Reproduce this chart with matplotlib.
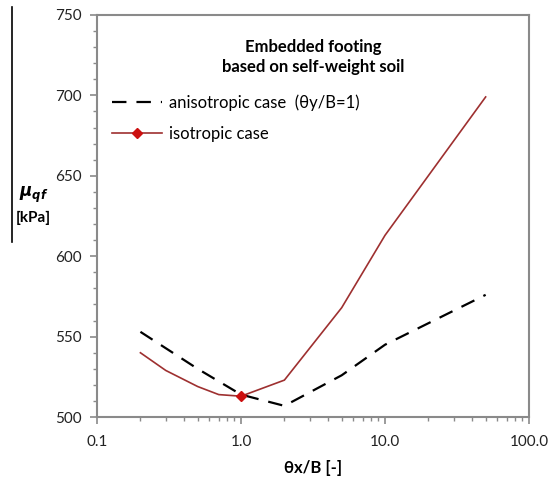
import matplotlib
matplotlib.use("Agg")
import matplotlib.pyplot as plt
from matplotlib.ticker import FixedLocator, NullFormatter, MultipleLocator
from matplotlib.lines import Line2D

plt.rcParams['font.family'] = ['Lato', 'DejaVu Sans']

iso_x = [0.2, 0.3, 0.5, 0.7, 1.0, 2.0, 5.0, 10.0, 50.0]
iso_y = [540, 529, 519, 514, 513, 523, 568, 613, 699]
aniso_x = [0.2, 0.5, 1.0, 2.0, 5.0, 10.0, 50.0]
aniso_y = [553, 530, 514, 507, 526, 545, 576]
x_ticks = [0.1, 1.0, 10.0, 100.0]
x_tick_labels = ["0.1", "1.0", "10.0", "100.0"]
y_ticks = [500, 550, 600, 650, 700, 750]

fig = plt.figure(figsize=(5.58, 4.8), dpi=100)
ax = fig.add_axes([0.174, 0.131, 0.774, 0.838])

ax.plot(aniso_x, aniso_y, color='black', lw=1.6, dashes=(6.5, 4.5),
        label='anisotropic case  (θy/B=1)')
ax.plot(iso_x, iso_y, color='#9e3030', lw=1.2, marker='D', ms=5,
        mfc='#cc1010', mec='#cc1010', markevery=[iso_x.index(1.0)],
        label='isotropic case')

ax.set_xscale('log')
ax.set_xlim(0.1, 100)
ax.set_ylim(500, 750)
ax.xaxis.set_major_locator(FixedLocator(x_ticks))
ax.set_xticklabels(x_tick_labels)
ax.xaxis.set_minor_formatter(NullFormatter())
ax.yaxis.set_major_locator(FixedLocator(y_ticks))
ax.yaxis.set_minor_locator(MultipleLocator(10))

for s in ax.spines.values():
    s.set_color('#8a8a8a')
    s.set_linewidth(1.5)
ax.tick_params(axis='both', which='major', direction='out', length=5,
               color='#8a8a8a', width=1.2, labelsize=11, labelcolor='#222222')
ax.tick_params(axis='both', which='minor', direction='out', length=3,
               color='#8a8a8a', width=1.0)
ax.tick_params(axis='x', pad=8)
ax.tick_params(axis='y', pad=6)

ax.set_xlabel('θx/B [-]', fontsize=12, fontweight='bold', labelpad=8)
fig.text(0.06, 0.572, r'$\mathbfit{\mu}_{\mathbfit{qf}}$', fontsize=12,
         ha='center', va='bottom')
fig.text(0.06, 0.545, '[kPa]', fontsize=11, fontweight='bold',
         ha='center', va='center')

ax.text(0.5, 0.94, 'Embedded footing\nbased on self-weight soil',
        transform=ax.transAxes, ha='center', va='top', fontsize=12,
        fontweight='bold', linespacing=1.3)

ax.legend(loc='upper left', bbox_to_anchor=(0.0, 0.84), frameon=False,
          fontsize=12, handlelength=3.0, labelspacing=0.9, handletextpad=0.4)

fig.add_artist(Line2D([0.022, 0.022], [0.985, 0.495], color='black', lw=1.2,
                      transform=fig.transFigure))

fig.savefig('out.png', dpi=100)
